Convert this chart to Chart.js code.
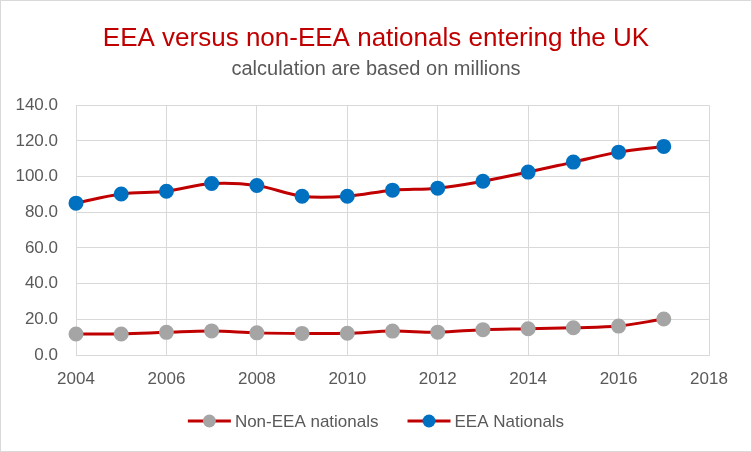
<!DOCTYPE html>
<html>
<head>
<meta charset="utf-8">
<script src="https://cdn.jsdelivr.net/npm/chart.js@4.4.0/dist/chart.umd.min.js"></script>
<style>
    html, body { margin: 0; padding: 0; background: #fff; }
    #box { width: 752px; height: 452px; }
</style>
</head>
<body>
<div id="box"><canvas id="graphCanvas" width="752" height="452"></canvas></div>
<script>
// datos (millones)
var years = [2004, 2005, 2006, 2007, 2008, 2009, 2010, 2011, 2012, 2013, 2014, 2015, 2016, 2017];
var nonEea = [11.8, 11.8, 12.7, 13.5, 12.4, 12.1, 12.2, 13.4, 12.8, 14.2, 14.7, 15.3, 16.2, 20.2];
var eea = [85.1, 90.2, 91.8, 96.1, 95.0, 89.0, 89.0, 92.4, 93.5, 97.4, 102.5, 108.1, 113.7, 116.9];
var xTicks = [2004, 2006, 2008, 2010, 2012, 2014, 2016, 2018];
var yTicks = [0, 20, 40, 60, 80, 100, 120, 140];

var fuente = "'Liberation Sans', Arial, sans-serif";
var gris = '#595959';
var rojo = '#C00000';

function toPoints(valores) {
    var puntos = [];
    for (var i in valores) {
        puntos.push({x: years[i], y: valores[i]});
    }
    return puntos;
}

// fondo blanco y marco gris
var fondo = {
    id: 'fondo',
    beforeDraw: function (chart) {
        var ctx = chart.ctx;
        ctx.save();
        ctx.fillStyle = '#ffffff';
        ctx.fillRect(0, 0, chart.width, chart.height);
        ctx.restore();
    },
    afterDraw: function (chart) {
        var ctx = chart.ctx;
        ctx.save();
        ctx.strokeStyle = '#d9d9d9';
        ctx.lineWidth = 1;
        ctx.strokeRect(0.5, 0.5, chart.width - 1, chart.height - 1);
        ctx.restore();
    }
};

// leyenda propia: linea + circulo + texto
var leyenda = {
    id: 'leyenda',
    afterDraw: function (chart) {
        var ctx = chart.ctx;
        var sets = chart.data.datasets;
        var lineW = 43, gap = 4, sep = 29;
        ctx.save();
        ctx.font = '17px ' + fuente;
        var total = 0;
        for (var i = 0; i < sets.length; i++) {
            total += lineW + gap + ctx.measureText(sets[i].label).width;
            if (i > 0) total += sep;
        }
        var x = (chart.width - total) / 2;
        var y = 421;
        for (var i = 0; i < sets.length; i++) {
            ctx.strokeStyle = sets[i].borderColor;
            ctx.lineWidth = 3;
            ctx.beginPath();
            ctx.moveTo(x, y);
            ctx.lineTo(x + lineW, y);
            ctx.stroke();
            ctx.fillStyle = sets[i].pointBackgroundColor;
            ctx.beginPath();
            ctx.arc(x + lineW / 2, y, 6.5, 0, Math.PI * 2);
            ctx.fill();
            ctx.fillStyle = gris;
            ctx.textBaseline = 'middle';
            ctx.fillText(sets[i].label, x + lineW + gap, y + 1);
            x += lineW + gap + ctx.measureText(sets[i].label).width + sep;
        }
        ctx.restore();
    }
};

var chartdata = {
    datasets: [
    {
        label: 'Non-EEA nationals',
        data: toPoints(nonEea),
        borderColor: rojo,
        borderWidth: 3,
        pointBackgroundColor: '#A5A5A5',
        pointBorderColor: '#A5A5A5',
        pointRadius: 6,
        tension: 0.35,
        clip: false
    },
    {
        label: 'EEA Nationals',
        data: toPoints(eea),
        borderColor: rojo,
        borderWidth: 3,
        pointBackgroundColor: '#0070C0',
        pointBorderColor: '#0070C0',
        pointRadius: 6,
        tension: 0.35,
        clip: false
    }
    ]
};

window.grafica = new Chart(document.getElementById('graphCanvas'), {
    type: 'line',
    data: chartdata,
    plugins: [fondo, leyenda],
    options: {
        responsive: false,
        animation: false,
        layout: { padding: 0 },
        plugins: {
            legend: { display: false },
            tooltip: { enabled: false },
            title: {
                display: true,
                text: 'EEA versus non-EEA nationals entering the UK',
                color: rojo,
                font: { family: fuente, size: 26, weight: 'normal' },
                padding: { top: 23, bottom: 0 }
            },
            subtitle: {
                display: true,
                text: 'calculation are based on millions',
                color: gris,
                font: { family: fuente, size: 20, weight: 'normal' },
                padding: { top: 3, bottom: 24 }
            }
        },
        scales: {
            x: {
                type: 'linear',
                min: 2004,
                max: 2018,
                afterBuildTicks: function (scale) {
                    scale.ticks = xTicks.map(function (v) { return {value: v}; });
                },
                afterFit: function (scale) { scale.height = 97; },
                ticks: {
                    color: gris,
                    font: { family: fuente, size: 17 },
                    padding: 14,
                    maxRotation: 0,
                    callback: function (v) { return String(v); }
                },
                grid: { color: '#d9d9d9', lineWidth: 1, drawTicks: false },
                border: { color: '#d9d9d9' }
            },
            y: {
                min: 0,
                max: 140,
                afterBuildTicks: function (scale) {
                    scale.ticks = yTicks.map(function (v) { return {value: v}; });
                },
                afterFit: function (scale) { scale.width = 76; },
                ticks: {
                    color: gris,
                    font: { family: fuente, size: 17 },
                    padding: 18,
                    callback: function (v) { return Number(v).toFixed(1); }
                },
                grid: { color: '#d9d9d9', lineWidth: 1, drawTicks: false },
                border: { color: '#d9d9d9' }
            },
            // eje vacio a la derecha, solo para dejar el margen
            margen: {
                position: 'right',
                afterFit: function (scale) { scale.width = 43; },
                ticks: { display: false },
                grid: { display: false },
                border: { display: false }
            }
        }
    }
});
</script>
</body>
</html>
